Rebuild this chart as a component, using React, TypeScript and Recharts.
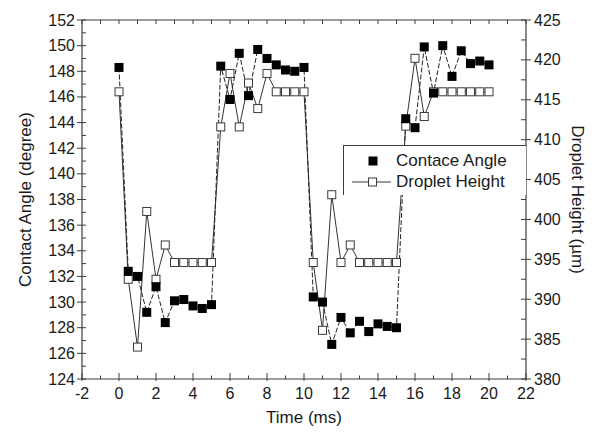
import React from 'react';
import { LineChart, Line, XAxis, YAxis, Legend } from 'recharts';

const times = [0, 0.5, 1, 1.5, 2, 2.5, 3, 3.5, 4, 4.5, 5, 5.5, 6, 6.5, 7, 7.5, 8, 8.5, 9, 9.5, 10, 10.5, 11, 11.5, 12, 12.5, 13, 13.5, 14, 14.5, 15, 15.5, 16, 16.5, 17, 17.5, 18, 18.5, 19, 19.5, 20];
const contactAngle = [148.3, 132.4, 132.0, 129.2, 131.2, 128.4, 130.1, 130.2, 129.7, 129.5, 129.8, 148.4, 145.8, 149.4, 146.1, 149.7, 149.0, 148.5, 148.1, 148.0, 148.3, 130.4, 130.0, 126.7, 128.8, 127.6, 128.5, 127.7, 128.3, 128.1, 128.0, 144.3, 143.6, 149.9, 146.3, 150.0, 147.6, 149.6, 148.6, 148.8, 148.5];
const dropletHeight = [416, 392.5, 384.0, 401.0, 392.5, 396.8, 394.6, 394.6, 394.6, 394.6, 394.6, 411.6, 418.3, 411.6, 417.1, 413.9, 418.3, 416, 416, 416, 416, 394.6, 386.1, 403.1, 394.6, 396.8, 394.6, 394.6, 394.6, 394.6, 394.6, 411.7, 420.2, 412.9, 416, 416, 416, 416, 416, 416, 416];

const xTicks = [-2, -1, 0, 1, 2, 3, 4, 5, 6, 7, 8, 9, 10, 11, 12, 13, 14, 15, 16, 17, 18, 19, 20, 21, 22];
const xTickLabels = [-2, 0, 2, 4, 6, 8, 10, 12, 14, 16, 18, 20, 22];
const leftTicks = [124, 125, 126, 127, 128, 129, 130, 131, 132, 133, 134, 135, 136, 137, 138, 139, 140, 141, 142, 143, 144, 145, 146, 147, 148, 149, 150, 151, 152];
const leftTickLabels = [124, 126, 128, 130, 132, 134, 136, 138, 140, 142, 144, 146, 148, 150, 152];
const rightTicks = [380, 382.5, 385, 387.5, 390, 392.5, 395, 397.5, 400, 402.5, 405, 407.5, 410, 412.5, 415, 417.5, 420, 422.5, 425];
const rightTickLabels = [380, 385, 390, 395, 400, 405, 410, 415, 420, 425];

const seriesNames = ['Contace Angle', 'Droplet Height'];
const xTitle = 'Time (ms)';
const leftTitle = 'Contact Angle (degree)';
const rightTitle = 'Droplet Height (\u00b5m)';

const data = times.map((t, i) => ({ t, angle: contactAngle[i], height: dropletHeight[i] }));

const FONT = '"Liberation Sans", Arial, Helvetica, sans-serif';
const AX = '#3c3c3c';
const TXT = '#1a1a1a';

function BottomTick(props: any) {
  const { x, y, payload } = props;
  const v = payload.value;
  const major = xTickLabels.includes(v);
  return (
    <g>
      <line x1={x} x2={x} y1={y + (major ? 2 : 0)} y2={y - (major ? 6 : 3.5)} stroke={AX} strokeWidth={1} />
      {major && (
        <text x={x} y={y + 20} textAnchor="middle" fontSize={16} fontFamily={FONT} fill={TXT}>
          {v}
        </text>
      )}
    </g>
  );
}

function TopTick(props: any) {
  const { x, y } = props;
  return <line x1={x} x2={x} y1={y} y2={y + 4} stroke={AX} strokeWidth={1} />;
}

function LeftTick(props: any) {
  const { x, y, payload } = props;
  const v = payload.value;
  const major = leftTickLabels.includes(v);
  return (
    <g>
      <line x1={x - (major ? 5 : 0)} x2={x + 4} y1={y} y2={y} stroke={AX} strokeWidth={1} />
      {major && (
        <text x={x - 7} y={y + 5.5} textAnchor="end" fontSize={16} fontFamily={FONT} fill={TXT}>
          {v}
        </text>
      )}
    </g>
  );
}

function RightTick(props: any) {
  const { x, y, payload } = props;
  const v = payload.value;
  const major = rightTickLabels.includes(v);
  return (
    <g>
      <line x1={x + (major ? 5 : 0)} x2={x - 5} y1={y} y2={y} stroke={AX} strokeWidth={1} />
      {major && (
        <text x={x + 8} y={y + 5.5} textAnchor="start" fontSize={16} fontFamily={FONT} fill={TXT}>
          {v}
        </text>
      )}
    </g>
  );
}

function FilledDot(props: any) {
  const { cx, cy, index } = props;
  if (cx == null || cy == null) return <g key={`f${index}`} />;
  return <rect key={`f${index}`} x={cx - 4.5} y={cy - 4.5} width={9} height={9} fill="#000" />;
}

function OpenDot(props: any) {
  const { cx, cy, index } = props;
  if (cx == null || cy == null) return <g key={`o${index}`} />;
  return <rect key={`o${index}`} x={cx - 4} y={cy - 4} width={8} height={8} fill="#fff" stroke="#3a3a3a" strokeWidth={1} />;
}

function LegendBox() {
  return (
    <div
      style={{
        width: 183,
        height: 50,
        background: '#fff',
        borderTop: `1px solid ${AX}`,
        borderLeft: `1px solid ${AX}`,
        boxSizing: 'border-box',
        fontFamily: FONT,
        fontSize: 17,
        color: TXT,
        position: 'relative',
      }}
    >
      <div style={{ position: 'absolute', left: 0, top: 5, height: 20, display: 'flex', alignItems: 'center' }}>
        <svg width={52} height={20} style={{ display: 'block' }}>
          <rect x={24.5} y={5.5} width={9} height={9} fill="#000" />
        </svg>
        <span style={{ lineHeight: '20px', whiteSpace: 'nowrap' }}>{seriesNames[0]}</span>
      </div>
      <div style={{ position: 'absolute', left: 0, top: 26, height: 20, display: 'flex', alignItems: 'center' }}>
        <svg width={52} height={20} style={{ display: 'block' }}>
          <line x1={8} x2={47} y1={10} y2={10} stroke="#3a3a3a" strokeWidth={1} />
          <rect x={24.5} y={6} width={8} height={8} fill="#fff" stroke="#3a3a3a" strokeWidth={1} />
        </svg>
        <span style={{ lineHeight: '20px', whiteSpace: 'nowrap' }}>{seriesNames[1]}</span>
      </div>
    </div>
  );
}

function leftTitleContent(p: any) {
  const vb = p.viewBox || { x: 0, y: 20, width: 82, height: 359 };
  const cx = vb.x + 25;
  const cy = vb.y + vb.height / 2;
  return (
    <text x={cx} y={cy} transform={`rotate(-90 ${cx} ${cy})`} textAnchor="middle" dominantBaseline="central" fontSize={17} fontFamily={FONT} fill={TXT}>
      {leftTitle}
    </text>
  );
}

function rightTitleContent(p: any) {
  const vb = p.viewBox || { x: 526, y: 20, width: 72, height: 359 };
  const cx = vb.x + 51;
  const cy = vb.y + vb.height / 2;
  return (
    <text x={cx} y={cy} transform={`rotate(90 ${cx} ${cy})`} textAnchor="middle" dominantBaseline="central" fontSize={17} fontFamily={FONT} fill={TXT}>
      {rightTitle}
    </text>
  );
}

function xTitleContent(p: any) {
  const vb = p.viewBox || { x: 82, y: 379, width: 444, height: 59 };
  const cx = vb.x + vb.width / 2;
  const cy = vb.y + 38;
  return (
    <text x={cx} y={cy} textAnchor="middle" dominantBaseline="central" fontSize={17} fontFamily={FONT} fill={TXT}>
      {xTitle}
    </text>
  );
}

export default function App() {
  return (
    <div style={{ position: 'absolute', left: 0, top: 0, width: 598, height: 438, background: '#fff' }}>
      <LineChart width={598} height={438} data={data} margin={{ top: 0, right: 0, bottom: 0, left: 0 }}>
        <XAxis
          xAxisId="bottom"
          dataKey="t"
          type="number"
          domain={[-2, 22]}
          ticks={xTicks}
          interval={0}
          height={59}
          tickSize={0}
          tickMargin={0}
          tickLine={false}
          tick={BottomTick}
          axisLine={{ stroke: AX, strokeWidth: 1.2 }}
          allowDataOverflow
          label={{ content: xTitleContent }}
        />
        <XAxis
          xAxisId="top"
          orientation="top"
          dataKey="t"
          type="number"
          domain={[-2, 22]}
          ticks={xTicks}
          interval={0}
          height={20}
          tickSize={0}
          tickMargin={0}
          tickLine={false}
          tick={TopTick}
          axisLine={{ stroke: AX, strokeWidth: 1.2 }}
          allowDataOverflow
        />
        <YAxis
          yAxisId="left"
          type="number"
          domain={[124, 152]}
          ticks={leftTicks}
          interval={0}
          width={82}
          tickSize={0}
          tickMargin={0}
          tickLine={false}
          tick={LeftTick}
          axisLine={{ stroke: AX, strokeWidth: 1.2 }}
          allowDataOverflow
          label={{ content: leftTitleContent }}
        />
        <YAxis
          yAxisId="right"
          orientation="right"
          type="number"
          domain={[380, 425]}
          ticks={rightTicks}
          interval={0}
          width={72}
          tickSize={0}
          tickMargin={0}
          tickLine={false}
          tick={RightTick}
          axisLine={{ stroke: AX, strokeWidth: 1.2 }}
          allowDataOverflow
          label={{ content: rightTitleContent }}
        />
        <Line xAxisId="bottom" yAxisId="right" type="linear" dataKey="height" stroke="#333" strokeWidth={1} dot={false} activeDot={false} isAnimationActive={false} legendType="none" />
        <Line xAxisId="bottom" yAxisId="left" type="linear" dataKey="angle" stroke="#222" strokeWidth={1} strokeDasharray="5 2" dot={false} activeDot={false} isAnimationActive={false} legendType="none" />
        <Line xAxisId="bottom" yAxisId="right" type="linear" dataKey="height" stroke="none" dot={OpenDot} activeDot={false} isAnimationActive={false} legendType="none" />
        <Line xAxisId="bottom" yAxisId="left" type="linear" dataKey="angle" stroke="none" dot={FilledDot} activeDot={false} isAnimationActive={false} legendType="none" />
        <Legend
          layout="vertical"
          align="center"
          verticalAlign="middle"
          content={LegendBox}
          wrapperStyle={{ position: 'absolute', left: 343, top: 145, width: 183, height: 50, margin: 0, padding: 0 }}
        />
      </LineChart>
    </div>
  );
}
